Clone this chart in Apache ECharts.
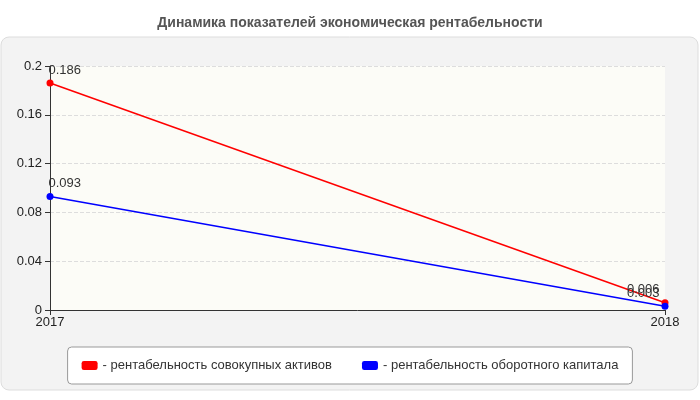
<!DOCTYPE html><html><head><meta charset="utf-8"><script src="https://cdn.jsdelivr.net/npm/echarts@6/dist/echarts.min.js"></script></head><body style="margin:0"><div id="c" style="width:700px;height:400px"></div><script>
const categories=['2017','2018'];
const seriesNames=['- рентабельность совокупных активов','- рентабельность оборотного капитала'];
const assets=[0.186,0.006];
const capital=[0.093,0.003];
const yTicks=[0,0.04,0.08,0.12,0.16,0.2];
const c=echarts.init(document.getElementById('c'));
const lab={show:true,color:'#333',fontSize:13,fontFamily:'Arial',formatter:p=>p.value,
 position:[2,-16],align:'left'};
function pts(arr){return arr.map((v,i)=>i===arr.length-1?{value:v,label:{position:[-2,-16],align:'right'}}:{value:v});}
c.setOption({
 backgroundColor:'#fff',
 title:{text:'Динамика показателей экономическая рентабельности',left:'center',top:11,textStyle:{fontSize:14,fontWeight:'bold',color:'#555',fontFamily:'Arial'}},
 graphic:[{type:'rect',z:-10,shape:{x:1,y:37,width:697,height:353,r:8},style:{fill:'#f3f3f3',stroke:'#ddd'}},
  {type:'rect',z:-9,shape:{x:50,y:66,width:615,height:244},style:{fill:'#fcfcf7'}}],
 grid:{left:50,right:35,top:66,bottom:90},
 xAxis:{type:'category',data:categories,boundaryGap:false,axisLine:{lineStyle:{color:'#333'}},axisTick:{length:5,lineStyle:{color:'#333'}},axisLabel:{color:'#222',fontSize:13,fontFamily:'Arial',margin:6}},
 yAxis:{type:'value',min:0,max:0.2,interval:0.04,axisLine:{show:true,lineStyle:{color:'#333'}},axisTick:{show:true,length:5},axisLabel:{color:'#222',fontSize:13,fontFamily:'Arial',formatter:v=>String(+v.toFixed(2))},splitLine:{lineStyle:{type:'dashed',color:'#ddd'}}},
 legend:{bottom:16,left:'center',icon:'roundRect',itemWidth:16,itemHeight:9,itemGap:30,padding:[12,14],borderColor:'#999',borderWidth:1,borderRadius:4,backgroundColor:'#fff',textStyle:{fontSize:13,color:'#333',fontFamily:'Arial'},data:seriesNames},
 series:[
  {name:seriesNames[0],type:'line',data:pts(assets),color:'#f00',symbol:'circle',symbolSize:7,lineStyle:{width:1.5},label:lab},
  {name:seriesNames[1],type:'line',data:pts(capital),color:'#00f',symbol:'circle',symbolSize:7,lineStyle:{width:1.5},label:lab}
 ]
});
</script></body></html>
